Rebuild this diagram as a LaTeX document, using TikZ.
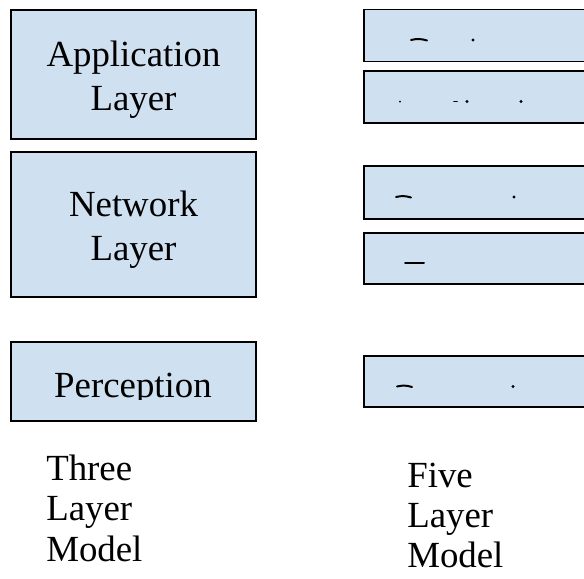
\documentclass[tikz,border=0pt]{standalone}
\usepackage{fontspec}
\setmainfont{Liberation Serif}
\definecolor{layerblue}{RGB}{207,224,241}

\tikzset{
  layer/.style = {draw = black, line width = 1.3pt, fill = layerblue},
  boxtext/.style = {align = center, inner sep = 0pt,
    font = \fontsize{26.2}{31.3}\selectfont},
  modeltext/.style = {align = left, inner sep = 0pt, anchor = north west,
    font = \fontsize{26.2}{28.5}\selectfont},
  blot/.style = {line width = 1.4pt, line cap = round}
}

\begin{document}
\begin{tikzpicture}[x = 0.025cm, y = -0.025cm]

    \useasboundingbox (0, 0) rectangle (584, 578);
    \clip (0, 0) rectangle (584, 578);

    % three layer model
    \coordinate (AU) at (11, 10);
    \coordinate (AD) at (256, 139);

    \coordinate (NU) at (11, 152);
    \coordinate (ND) at (256, 297);

    \coordinate (PU) at (11, 342);
    \coordinate (PD) at (256, 421);

    \draw[layer] (AU) rectangle (AD);
    \draw[layer] (NU) rectangle (ND);
    \draw[layer] (PU) rectangle (PD);

    \node[boxtext] (app) at (133.5, 80) {Application\\Layer};
    \node[boxtext] (net) at (133.5, 230) {Network\\Layer};
    \begin{scope}
      \clip (PU) rectangle (256, 399);
      \node[boxtext] (per) at (133, 389) {Perception};
    \end{scope}

    % five layer model
    \coordinate (R1U) at (364, 9.5);
    \coordinate (R1D) at (600, 61.5);

    \coordinate (R2U) at (364, 70.7);
    \coordinate (R2D) at (600, 122.7);

    \coordinate (R3U) at (364, 166);
    \coordinate (R3D) at (600, 218.7);

    \coordinate (R4U) at (364, 232.7);
    \coordinate (R4D) at (600, 284.3);

    \coordinate (R5U) at (364, 356);
    \coordinate (R5D) at (600, 406.7);

    \draw[layer] (R1U) rectangle (R1D);
    \draw[layer] (R2U) rectangle (R2D);
    \draw[layer] (R3U) rectangle (R3D);
    \draw[layer] (R4U) rectangle (R4D);
    \draw[layer] (R5U) rectangle (R5D);

    \draw[blot] (411, 40) to[bend left=15] (427, 40.5);
    \fill (473, 40) circle (1.6);

    \fill (400, 101.7) circle (1);
    \draw[blot] (454, 101.5) -- (457, 101.5);
    \fill (467, 101.5) circle (1.6);
    \fill (521, 101.5) circle (1.6);

    \draw[blot] (396, 197) to[bend left=15] (411, 197.5);
    \fill (514, 197) circle (1.6);

    \draw[blot] (405, 263) -- (424, 263);

    \draw[blot] (397, 386.5) to[bend left=15] (412, 387);
    \fill (513, 386.5) circle (1.6);

    % captions
    \node[modeltext] (three) at (46, 455) {Three\\Layer\\Model};
    \node[modeltext] (five) at (407, 463) {Five\\Layer\\Model};

  \end{tikzpicture}
\end{document}
